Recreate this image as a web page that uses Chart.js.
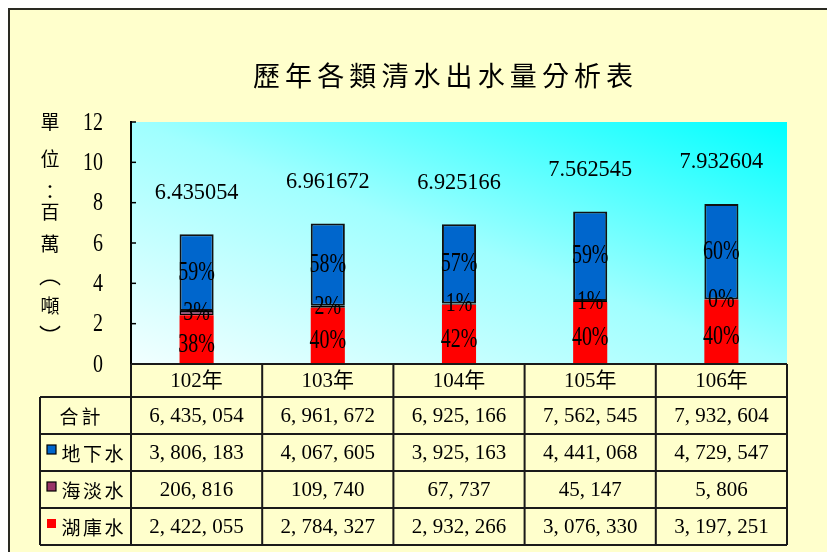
<!DOCTYPE html>
<html>
<head>
<meta charset="utf-8">
<script src="https://cdn.jsdelivr.net/npm/chart.js@4.4.0/dist/chart.umd.min.js"></script>
<style>
    html, body { margin: 0; padding: 0; background: #ffffff; }
    #wrap { width: 827px; height: 552px; position: relative; }
</style>
</head>
<body>
<div id="wrap"><canvas id="waterChart"></canvas></div>
<script>

/* =========================
DATA
========================= */

const years = ["102年", "103年", "104年", "105年", "106年"];

const totals = [6435054, 6961672, 6925166, 7562545, 7932604];

const groundWater = [3806183, 4067605, 3925163, 4441068, 4729547];

const seaWater = [206816, 109740, 67737, 45147, 5806];

const reservoirWater = [2422055, 2784327, 2932266, 3076330, 3197251];

const groundPct = ["59%", "58%", "57%", "59%", "60%"];

const seaPct = ["3%", "2%", "1%", "1%", "0%"];

const reservoirPct = ["38%", "40%", "42%", "40%", "40%"];

const yMin = 0;
const yMax = 12;
const yStep = 2;

const titleText = "歷年各類清水出水量分析表";
const unitText = ["單", "位", "：", "百", "萬", "︵", "噸", "︶"];

const BLUE = "#0066cc";
const PURPLE = "#993366";
const RED = "#ff0000";

const SERIF = "'Liberation Serif', 'Noto Sans CJK TC'";
const CJK = "'Noto Sans CJK TC'";

/* =========================
HELPERS
========================= */

function toMillions(arr) {
    return arr.map(v => v / 1000000);
}

function formatNumber(v) {
    return v.toLocaleString("en-US").replace(/,/g, ", ");
}

function drawText(ctx, text, x, y, font, sx = 1, align = "center") {
    ctx.save();
    ctx.translate(x, y);
    ctx.scale(sx, 1);
    ctx.font = font;
    ctx.fillStyle = "#000000";
    ctx.textAlign = align;
    ctx.textBaseline = "middle";
    ctx.fillText(text, 0, 0);
    ctx.restore();
}

function drawSpaced(ctx, text, startX, step, y, font) {
    Array.from(text).forEach((ch, i) => {
        drawText(ctx, ch, startX + i * step, y, font);
    });
}

/* =========================
BACKGROUND PLUGIN
========================= */

const backgroundPlugin = {

    id: "backgroundPlugin",

    beforeDraw(chart) {

        const ctx = chart.ctx;
        const { left, top, right, bottom } = chart.chartArea;

        ctx.save();

        ctx.fillStyle = "#ffffff";
        ctx.fillRect(0, 0, chart.width, chart.height);

        ctx.fillStyle = "#ffffcc";
        ctx.fillRect(9, 9, chart.width, chart.height);

        ctx.strokeStyle = "#2a2a22";
        ctx.lineWidth = 2;
        ctx.strokeRect(9, 9, chart.width + 20, chart.height + 20);

        // diagonal gradient, isolines parallel to the top-left / bottom-right diagonal
        const w = right - left;
        const h = bottom - top;
        const cx = (left + right) / 2;
        const cy = (top + bottom) / 2;
        const s = (w * h) / (h * h + w * w);

        const grad = ctx.createLinearGradient(
            cx - s * h, cy + s * w,
            cx + s * h, cy - s * w
        );

        grad.addColorStop(0, "#f2ffff");
        grad.addColorStop(0.5, "#a0ffff");
        grad.addColorStop(1, "#00ffff");

        ctx.fillStyle = grad;
        ctx.fillRect(left, top, w, h);

        ctx.restore();

    }

};

/* =========================
LABELS + TABLE PLUGIN
========================= */

const overlayPlugin = {

    id: "overlayPlugin",

    afterDraw(chart) {

        const ctx = chart.ctx;
        const area = chart.chartArea;
        const yScale = chart.scales.y;
        const xScale = chart.scales.x;

        // title
        drawSpaced(ctx, titleText, 266.5, 32.1, 76, "27px " + CJK);

        // unit text (vertical); vertical bracket forms sit off-centre in the font
        const unitY = [122, 159, 192, 212, 244, 275, 306, 336];
        unitText.forEach((ch, i) => {
            const bracket = (ch === "︵" || ch === "︶");
            drawText(ctx, ch, 50, unitY[i], (bracket ? "22px " : "19px ") + CJK);
        });

        // y ticks (inward marks) and labels
        ctx.save();
        ctx.strokeStyle = "#000000";
        ctx.lineWidth = 1.5;
        yScale.ticks.forEach(t => {
            const py = yScale.getPixelForValue(t.value);
            ctx.beginPath();
            ctx.moveTo(area.left, py);
            ctx.lineTo(area.left + 5, py);
            ctx.stroke();
            drawText(ctx, String(t.value), 103, py + 1, "25px " + SERIF, 0.8, "right");
        });
        ctx.restore();

        // bar labels
        const metaRes = chart.getDatasetMeta(0);
        const metaSea = chart.getDatasetMeta(1);
        const metaGround = chart.getDatasetMeta(2);

        years.forEach((yr, i) => {

            const r = metaRes.data[i];
            const s = metaSea.data[i];
            const g = metaGround.data[i];

            drawText(ctx, reservoirPct[i], r.x, (r.y + r.base) / 2 + 5, "27px " + SERIF, 0.74);
            drawText(ctx, seaPct[i], s.x, (s.y + s.base) / 2, "27px " + SERIF, 0.74);
            drawText(ctx, groundPct[i], g.x, (g.y + g.base) / 2, "27px " + SERIF, 0.74);

            drawText(ctx, (totals[i] / 1000000).toFixed(6), g.x, g.y - 42, "24px " + SERIF, 0.93);

        });

        drawTable(chart, ctx, area, xScale);

    }

};

/* =========================
DATA TABLE
========================= */

function drawTable(chart, ctx, area, xScale) {

    const colW = (area.right - area.left) / years.length;
    const headTop = area.bottom;
    const headH = 33;
    const rowH = 37;
    const labelLeft = 40;

    const rows = [
        { label: "合計", values: totals, color: null },
        { label: "地下水", values: groundWater, color: BLUE, border: true },
        { label: "海淡水", values: seaWater, color: PURPLE, border: true },
        { label: "湖庫水", values: reservoirWater, color: RED, border: false }
    ];

    const tableBottom = headTop + headH + rows.length * rowH;

    ctx.save();
    ctx.strokeStyle = "#1a1a1a";
    ctx.lineWidth = 2;

    // horizontal lines
    ctx.beginPath();
    ctx.moveTo(area.left, headTop);
    ctx.lineTo(area.right, headTop);
    for (let r = 0; r <= rows.length; r++) {
        const y = headTop + headH + r * rowH;
        ctx.moveTo(labelLeft, y);
        ctx.lineTo(area.right, y);
    }

    // vertical lines
    ctx.moveTo(labelLeft, headTop + headH);
    ctx.lineTo(labelLeft, tableBottom);
    for (let c = 0; c <= years.length; c++) {
        const x = area.left + c * colW;
        ctx.moveTo(x, headTop);
        ctx.lineTo(x, tableBottom);
    }
    ctx.stroke();
    ctx.restore();

    // header
    years.forEach((yr, i) => {
        drawText(ctx, yr, xScale.getPixelForValue(i), headTop + headH / 2 + 1, "21px " + SERIF);
    });

    // rows
    rows.forEach((row, r) => {

        const top = headTop + headH + r * rowH;
        const cy = top + rowH / 2 + 1;

        if (row.color) {
            ctx.save();
            ctx.fillStyle = row.color;
            ctx.fillRect(47, top + 11, 9, 9);
            if (row.border) {
                ctx.strokeStyle = "#000000";
                ctx.lineWidth = 1.2;
                ctx.strokeRect(47, top + 11, 9, 9);
            }
            ctx.restore();
            drawSpaced(ctx, row.label, 71, 21.5, cy, "19px " + CJK);
        } else {
            drawSpaced(ctx, row.label, 69, 22, cy, "19px " + CJK);
        }

        row.values.forEach((v, i) => {
            drawText(ctx, formatNumber(v), xScale.getPixelForValue(i), cy, "21px " + SERIF);
        });

    });

}

/* =========================
CHART
========================= */

const ctx = document.getElementById("waterChart");

const waterChart = new Chart(ctx, {

    type: "bar",

    data: {

        labels: years,

        datasets: [

            {
                label: "湖庫水",
                data: toMillions(reservoirWater),
                backgroundColor: RED,
                borderWidth: 0
            },

            {
                label: "海淡水",
                data: toMillions(seaWater),
                backgroundColor: PURPLE,
                borderColor: "#000000",
                borderWidth: 1.5,
                borderSkipped: false
            },

            {
                label: "地下水",
                data: toMillions(groundWater),
                backgroundColor: BLUE,
                borderColor: "#111111",
                borderWidth: 2,
                borderSkipped: false
            }

        ]

    },

    options: {

        responsive: true,

        maintainAspectRatio: false,

        animation: false,

        layout: {
            padding: { top: 122, right: 40, bottom: 188, left: 0 }
        },

        datasets: {
            bar: {
                categoryPercentage: 1,
                barPercentage: 0.26
            }
        },

        scales: {

            x: {
                display: false,
                stacked: true
            },

            y: {
                stacked: true,
                min: yMin,
                max: yMax,
                ticks: {
                    stepSize: yStep,
                    display: false
                },
                grid: {
                    display: false
                },
                border: {
                    display: true,
                    color: "#000000",
                    width: 2
                },
                afterFit(scale) {
                    scale.width = 131;
                }
            }

        },

        plugins: {
            legend: { display: false },
            tooltip: { enabled: false },
            title: { display: false }
        }

    },

    plugins: [backgroundPlugin, overlayPlugin]

});

</script>
</body>
</html>
